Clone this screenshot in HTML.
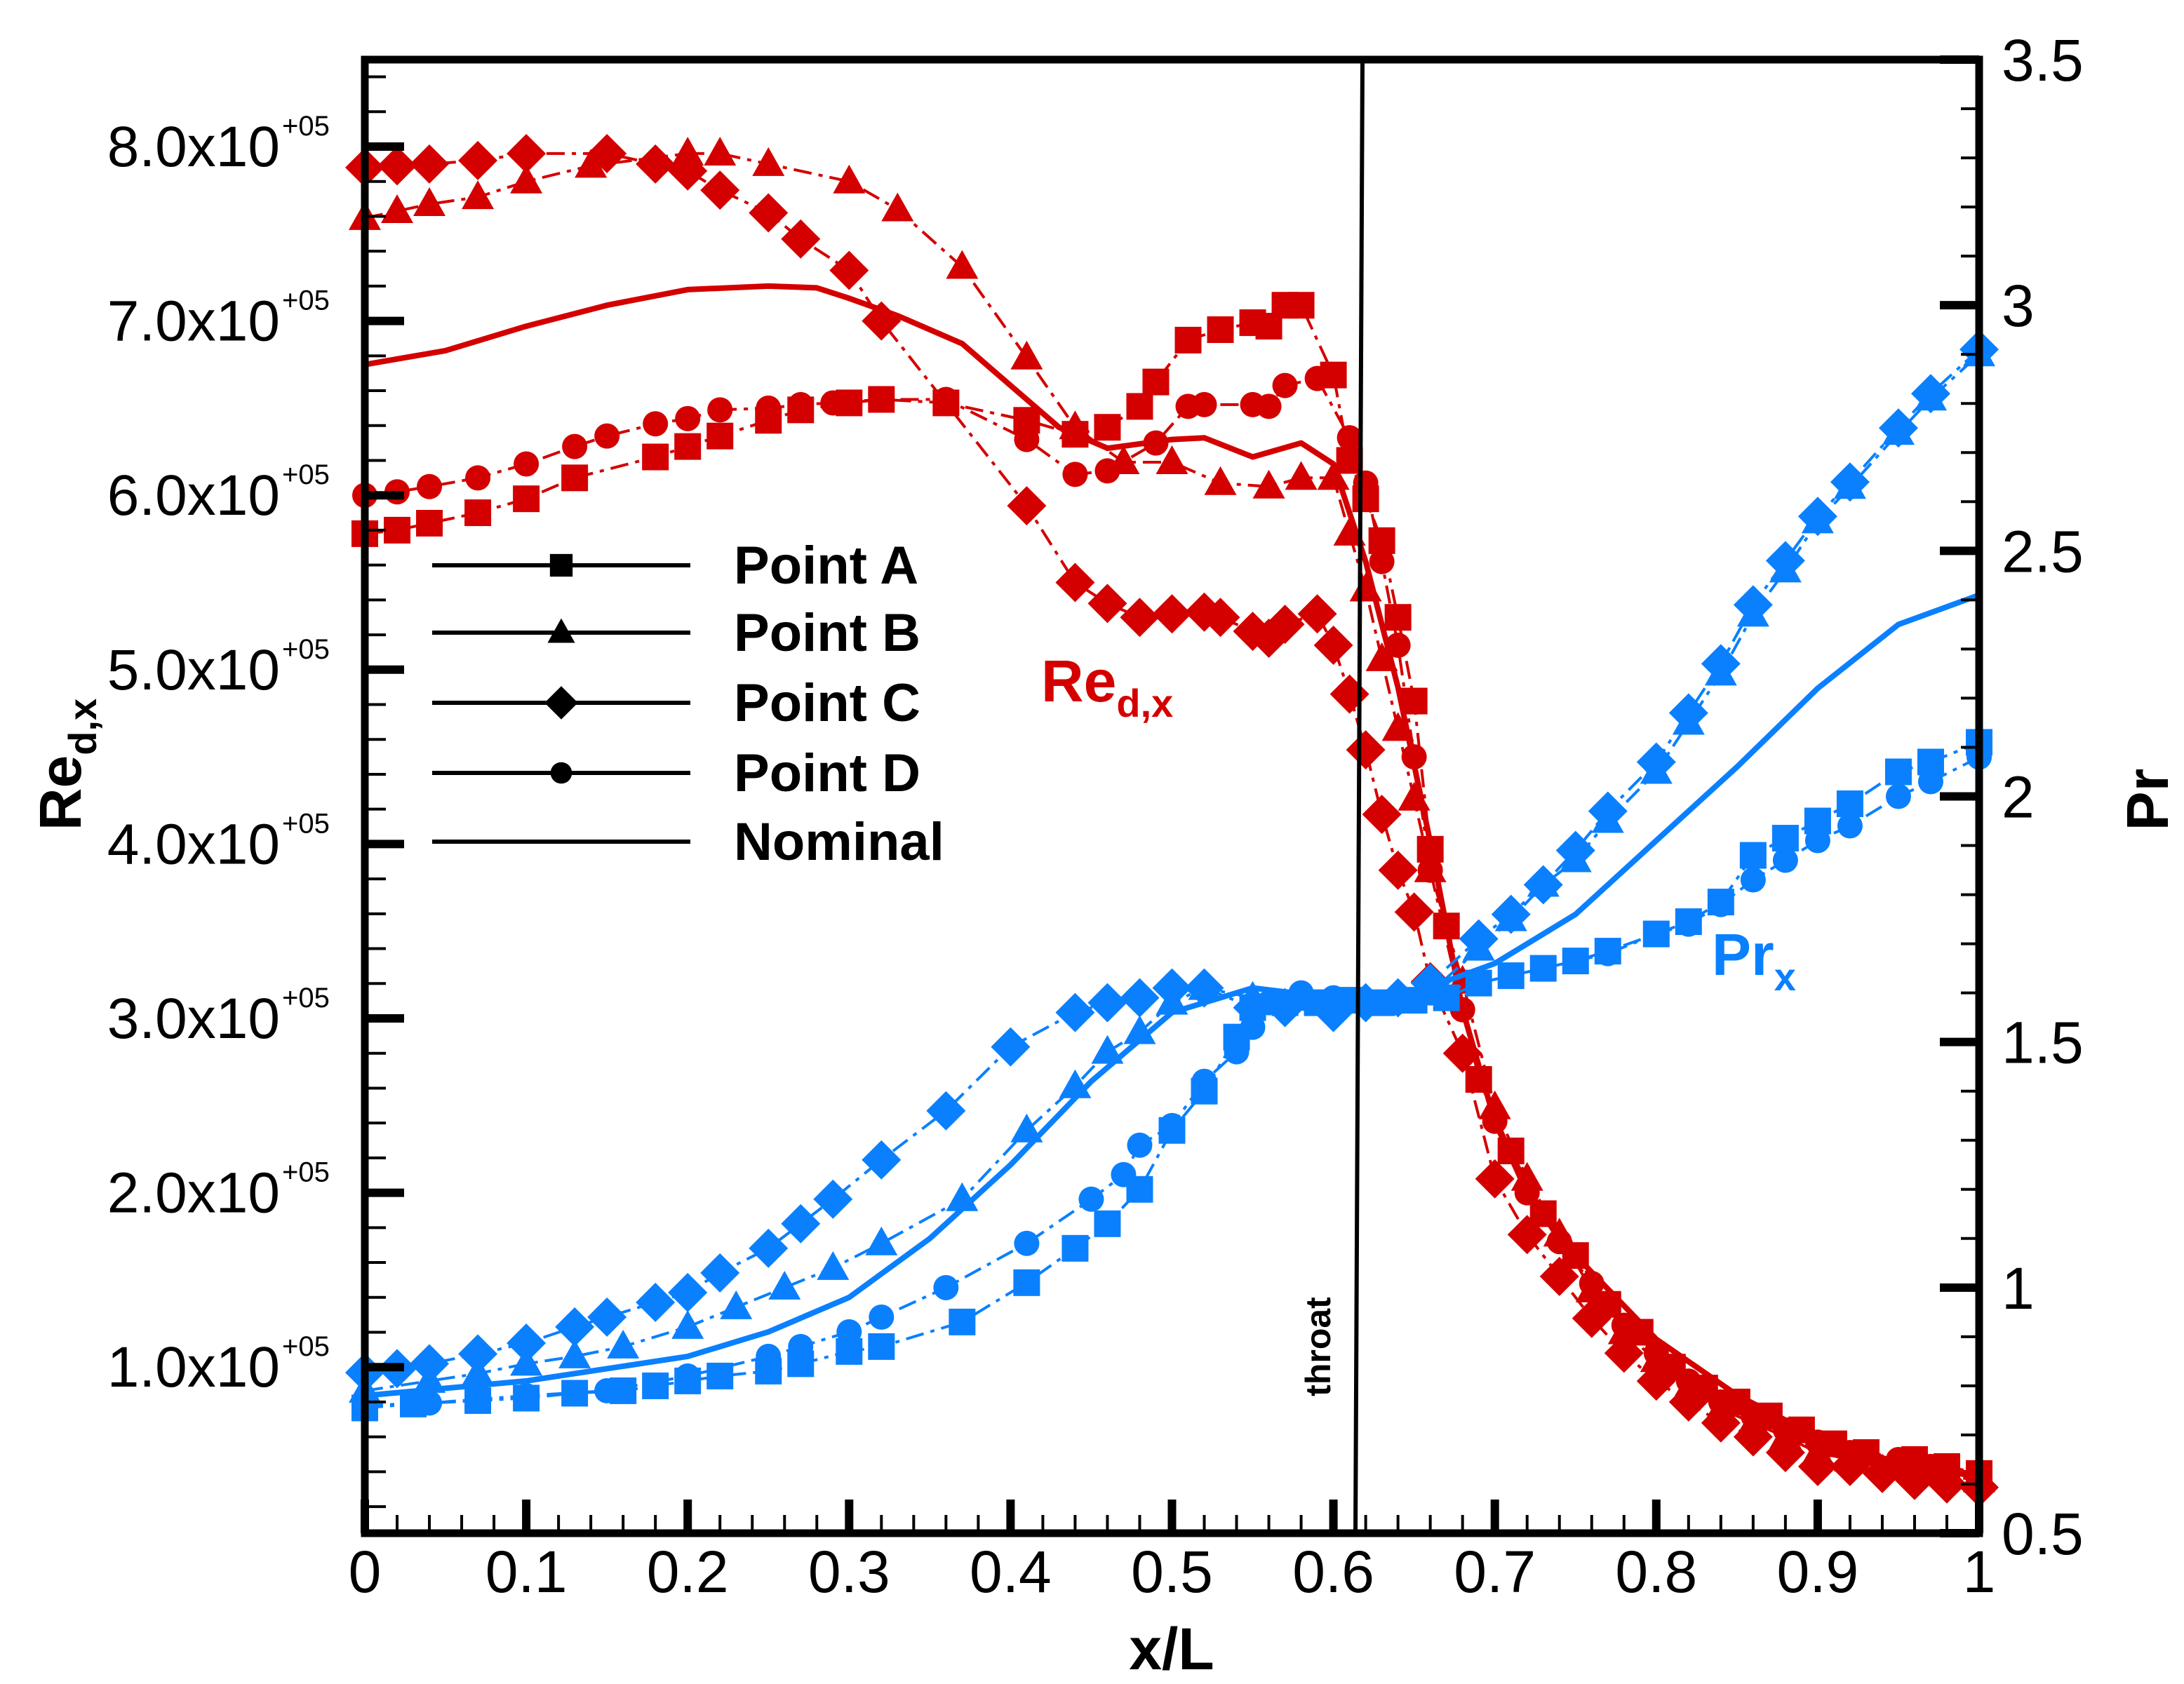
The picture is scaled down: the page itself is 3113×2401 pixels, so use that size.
<!DOCTYPE html>
<html><head><meta charset="utf-8">
<style>
html,body{margin:0;padding:0;background:#fff;}
svg{display:block;font-family:"Liberation Sans",Arial,sans-serif;}
</style></head>
<body>
<svg id="chart" width="3113" height="2401" viewBox="0 0 3113 2401" xmlns="http://www.w3.org/2000/svg">
<rect width="3113" height="2401" fill="#fff"/>
<g id="series"></g>
<g id="axes"></g>
</svg>
<script>
// ---------- data ----------
const reAx = [0,0.02,0.04,0.07,0.1,0.13,0.18,0.2,0.22,0.25,0.27,0.3,0.32,0.36,0.41,0.44,0.46,0.48,0.49,0.51,0.53,0.55,0.56,0.57,0.58,0.6,0.61,0.62,0.63,0.64,0.65,0.66,0.67,0.69,0.71,0.73,0.75,0.77,0.79,0.81,0.83,0.85,0.87,0.89,0.91,0.93,0.96,0.98,1.0];
const reAy = [5.78,5.8,5.84,5.9,5.98,6.1,6.22,6.28,6.34,6.43,6.49,6.53,6.55,6.53,6.43,6.35,6.39,6.51,6.65,6.89,6.95,6.99,6.97,7.09,7.09,6.69,6.2,5.98,5.74,5.3,4.82,3.97,3.53,2.65,2.24,1.88,1.64,1.36,1.2,1.0,0.88,0.8,0.72,0.64,0.56,0.51,0.47,0.43,0.39];
const reBx = [0,0.02,0.04,0.07,0.1,0.14,0.2,0.22,0.25,0.3,0.33,0.37,0.41,0.44,0.47,0.5,0.53,0.56,0.58,0.6,0.61,0.62,0.63,0.64,0.65,0.66,0.68,0.7,0.72,0.74,0.76,0.78,0.8,0.82,0.84,0.86,0.88,0.9,0.92,0.95,0.97,1.0];
const reBy = [7.59,7.63,7.67,7.71,7.8,7.89,7.96,7.96,7.9,7.8,7.64,7.31,6.79,6.39,6.19,6.19,6.07,6.05,6.1,6.1,5.78,5.46,5.06,4.66,4.26,3.85,3.21,2.49,2.08,1.76,1.44,1.2,1.04,0.88,0.76,0.68,0.6,0.51,0.47,0.43,0.39,0.35];
const reCx = [0,0.02,0.04,0.07,0.1,0.15,0.18,0.2,0.22,0.25,0.27,0.3,0.32,0.41,0.44,0.46,0.48,0.5,0.52,0.53,0.55,0.56,0.57,0.59,0.6,0.61,0.62,0.63,0.64,0.65,0.66,0.68,0.7,0.72,0.74,0.76,0.78,0.8,0.82,0.84,0.86,0.88,0.9,0.92,0.94,0.96,0.98,1.0];
const reCy = [7.88,7.89,7.9,7.92,7.96,7.96,7.9,7.86,7.75,7.62,7.47,7.29,7.0,5.94,5.5,5.38,5.3,5.32,5.33,5.3,5.22,5.18,5.26,5.32,5.14,4.86,4.54,4.17,3.85,3.61,3.21,2.8,2.08,1.76,1.52,1.28,1.08,0.92,0.8,0.68,0.6,0.51,0.43,0.43,0.39,0.35,0.33,0.31];
const reDx = [0,0.02,0.04,0.07,0.1,0.13,0.15,0.18,0.2,0.22,0.25,0.27,0.29,0.32,0.36,0.41,0.44,0.46,0.49,0.51,0.52,0.55,0.56,0.57,0.59,0.61,0.62,0.63,0.64,0.65,0.66,0.68,0.7,0.72,0.74,0.76,0.78,0.8,0.82,0.84,0.86,0.88,0.9,0.92,0.95,0.97,1.0];
const reDy = [6.0,6.02,6.05,6.1,6.18,6.28,6.34,6.41,6.44,6.49,6.5,6.52,6.53,6.55,6.55,6.32,6.12,6.14,6.3,6.51,6.52,6.52,6.51,6.63,6.67,6.33,6.07,5.62,5.14,4.5,3.85,3.05,2.41,2.0,1.72,1.48,1.24,1.08,0.92,0.8,0.72,0.64,0.57,0.51,0.47,0.43,0.39];
const reNx = [0,0.05,0.1,0.15,0.2,0.25,0.28,0.3,0.33,0.37,0.4,0.43,0.46,0.5,0.52,0.55,0.58,0.6,0.62,0.64,0.66,0.68,0.7,0.72,0.75,0.8,0.85,0.9,0.95,1.0];
const reNy = [6.75,6.83,6.97,7.09,7.18,7.2,7.19,7.13,7.03,6.87,6.63,6.39,6.27,6.32,6.33,6.22,6.3,6.18,5.62,4.9,4.01,3.05,2.41,2.0,1.64,1.16,0.84,0.6,0.45,0.37];

const prAx = [0,0.03,0.07,0.1,0.13,0.16,0.18,0.2,0.22,0.25,0.27,0.3,0.32,0.37,0.41,0.44,0.46,0.48,0.5,0.52,0.54,0.55,0.57,0.59,0.61,0.63,0.65,0.67,0.69,0.71,0.73,0.75,0.77,0.8,0.82,0.84,0.86,0.88,0.9,0.92,0.95,0.97,1.0];
const prAy = [0.755,0.763,0.77,0.775,0.785,0.79,0.80,0.81,0.82,0.83,0.845,0.87,0.88,0.93,1.01,1.08,1.13,1.20,1.32,1.40,1.51,1.57,1.58,1.58,1.585,1.58,1.585,1.59,1.62,1.635,1.65,1.665,1.685,1.72,1.745,1.785,1.88,1.915,1.95,1.985,2.05,2.07,2.11];
const prBx = [0,0.04,0.07,0.1,0.13,0.16,0.2,0.23,0.26,0.29,0.32,0.37,0.41,0.44,0.46,0.48,0.5,0.52,0.55,0.58,0.6,0.62,0.64,0.66,0.69,0.71,0.73,0.75,0.77,0.8,0.82,0.84,0.86,0.88,0.9,0.92,0.95,0.97,1.0];
const prBy = [0.79,0.81,0.825,0.845,0.86,0.88,0.92,0.96,1.0,1.04,1.09,1.18,1.32,1.41,1.48,1.52,1.58,1.61,1.59,1.59,1.58,1.585,1.59,1.6,1.69,1.75,1.82,1.87,1.95,2.05,2.15,2.25,2.37,2.46,2.56,2.63,2.74,2.81,2.9];
const prCx = [0,0.02,0.04,0.07,0.1,0.13,0.15,0.18,0.2,0.22,0.25,0.27,0.29,0.32,0.36,0.4,0.44,0.46,0.48,0.5,0.52,0.55,0.57,0.6,0.62,0.64,0.66,0.69,0.71,0.73,0.75,0.77,0.8,0.82,0.84,0.86,0.88,0.9,0.92,0.95,0.97,1.0];
const prCy = [0.827,0.835,0.845,0.865,0.887,0.92,0.94,0.97,0.99,1.03,1.08,1.13,1.18,1.26,1.36,1.49,1.56,1.58,1.59,1.61,1.61,1.57,1.57,1.56,1.58,1.59,1.62,1.71,1.76,1.82,1.89,1.97,2.07,2.17,2.27,2.39,2.48,2.57,2.64,2.75,2.82,2.91];
const prDx = [0,0.04,0.1,0.15,0.2,0.25,0.27,0.3,0.32,0.36,0.41,0.45,0.47,0.48,0.5,0.52,0.54,0.55,0.56,0.58,0.6,0.62,0.64,0.66,0.69,0.71,0.73,0.75,0.77,0.8,0.82,0.84,0.86,0.88,0.9,0.92,0.95,0.97,1.0];
const prDy = [0.76,0.765,0.78,0.79,0.82,0.86,0.88,0.91,0.94,1.0,1.09,1.18,1.23,1.29,1.33,1.42,1.48,1.53,1.58,1.6,1.59,1.585,1.59,1.6,1.62,1.635,1.65,1.665,1.68,1.72,1.74,1.78,1.83,1.87,1.91,1.94,2.0,2.03,2.08];
const prNx = [0,0.1,0.2,0.25,0.3,0.35,0.4,0.45,0.5,0.55,0.6,0.65,0.7,0.75,0.8,0.85,0.9,0.95,1.0];
const prNy = [0.78,0.81,0.86,0.91,0.98,1.1,1.25,1.42,1.56,1.61,1.59,1.6,1.66,1.76,1.91,2.06,2.22,2.35,2.41];

const xTicks = ["0","0.1","0.2","0.3","0.4","0.5","0.6","0.7","0.8","0.9","1"];
const reTicks = ["1.0","2.0","3.0","4.0","5.0","6.0","7.0","8.0"];
const prTicks = ["0.5","1","1.5","2","2.5","3","3.5"];
const throatX = 0.618;

// ---------- scales ----------
const L=520, R=2821, T=85, B=2186;
const X = x => L + x*(R-L);
const YRe = v => 209 + (8 - v)*248.6;
const YPr = p => B - (p-0.5)*(B-T)/3;
const NS="http://www.w3.org/2000/svg";
const RED="#d40000", BLUE="#0a80ff";
function mk(tag, attrs, parent){const e=document.createElementNS(NS,tag);for(const k in attrs)e.setAttribute(k,attrs[k]);parent.appendChild(e);return e;}
const sg=document.getElementById('series'), ag=document.getElementById('axes');

function marker(type,cx,cy,color,parent,s){
  s=s||1;let e;
  if(type==='square') e=mk('rect',{x:cx-19*s,y:cy-19*s,width:38*s,height:38*s,fill:color},parent);
  else if(type==='triangle') e=mk('polygon',{points:`${cx},${cy-24*s} ${cx+23*s},${cy+17*s} ${cx-23*s},${cy+17*s}`,fill:color},parent);
  else if(type==='diamond') e=mk('polygon',{points:`${cx},${cy-28*s} ${cx+28*s},${cy} ${cx},${cy+28*s} ${cx-28*s},${cy}`,fill:color},parent);
  else if(type==='circle') e=mk('circle',{cx:cx,cy:cy,r:18*s,fill:color},parent);
  return e;
}
function series(name,xs,ys,Y,color,type,dash){
  const g=mk('g',{},sg);
  
  
  const pts=xs.map((x,i)=>X(x).toFixed(1)+','+Y(ys[i]).toFixed(1)).join(' ');
  const pl=mk('polyline',{points:pts,fill:'none',stroke:color,'stroke-width':type?4:8,'stroke-dasharray':dash||'none','stroke-linejoin':'round'},g);
  
  
  if(type){xs.forEach((x,i)=>{const m=marker(type,X(x),Y(ys[i]),color,g);
    
    });}
}
const DD="26,10,6,10";
series('re-point-a',reAx,reAy,YRe,RED,'square',DD);
series('re-point-b',reBx,reBy,YRe,RED,'triangle',DD);
series('re-point-d',reDx,reDy,YRe,RED,'circle',DD);
series('re-point-c',reCx,reCy,YRe,RED,'diamond',DD);
series('re-nominal',reNx,reNy,YRe,RED,null,null);
series('pr-point-a',prAx,prAy,YPr,BLUE,'square',DD);
series('pr-point-d',prDx,prDy,YPr,BLUE,'circle',DD);
series('pr-point-b',prBx,prBy,YPr,BLUE,'triangle',DD);
series('pr-point-c',prCx,prCy,YPr,BLUE,'diamond',DD);
series('pr-nominal',prNx,prNy,YPr,BLUE,null,null);

// throat line
const th=mk('line',{x1:X(throatX),x2:X(throatX)-10,y1:T,y2:B,stroke:'#000','stroke-width':6},ag);


const tt=mk('text',{x:0,y:0,transform:`translate(${X(throatX)-46},${1920}) rotate(-90)`,'font-size':50,'font-weight':'bold','text-anchor':'middle',fill:'#000'},ag);
tt.textContent='throat';



// frame
const fr=mk('rect',{x:L,y:T,width:R-L,height:B-T,fill:'none',stroke:'#000','stroke-width':11},ag);



// x ticks
for(let i=0;i<=50;i++){const x=X(i/50);const major=i%5===0;
  const t=mk('line',{x1:x,x2:x,y1:B,y2:B-(major?48:26),stroke:'#000','stroke-width':major?12:4},ag);
  
  }
xTicks.forEach((s,i)=>{const t=mk('text',{x:X(i/10),y:2270,'font-size':84,'text-anchor':'middle',fill:'#000'},ag);t.textContent=s;
  
  });
// left ticks
for(let v=0.2;v<=8.41;v+=0.2){const y=YRe(v);const major=Math.abs(v-Math.round(v))<0.01;
  const t=mk('line',{x1:L,x2:L+(major?56:30),y1:y,y2:y,stroke:'#000','stroke-width':major?12:4},ag);
  
  }
reTicks.forEach((s,i)=>{const y=YRe(i+1)+28;
  const t=mk('text',{x:399,y:y,'font-size':82,'text-anchor':'end',fill:'#000'},ag);t.textContent=s+'x10';
  
  
  const sp=mk('text',{x:402,y:y-44,'font-size':40,'text-anchor':'start',fill:'#000'},ag);sp.textContent='+05';
  
  });
// right ticks
for(let i=0;i<=30;i++){const p=0.5+i*0.1;const y=YPr(p);const major=i%5===0;
  const t=mk('line',{x1:R,x2:R-(major?56:26),y1:y,y2:y,stroke:'#000','stroke-width':major?12:4},ag);
  
  }
prTicks.forEach((s,i)=>{const t=mk('text',{x:2853,y:YPr(0.5+i*0.5)+30,'font-size':84,'text-anchor':'start',fill:'#000'},ag);t.textContent=s;
  
  });

// axis titles
function txt(name,attrs,html){const t=mk('text',attrs,ag);t.innerHTML=html;return t;}
txt('x-axis-title',{x:1670,y:2380,'font-size':84,'font-weight':'bold','text-anchor':'middle',fill:'#000'},'x/L');
txt('re-axis-title',{x:0,y:0,transform:'translate(115,1090) rotate(-90)','font-size':84,'font-weight':'bold','text-anchor':'middle',fill:'#000'},'Re<tspan font-size="56" dy="22">d,x</tspan>');
txt('pr-axis-title',{x:0,y:0,transform:'translate(3090,1140) rotate(-90)','font-size':84,'font-weight':'bold','text-anchor':'middle',fill:'#000'},'Pr');
txt('re-annotation',{x:1484,y:1000,'font-size':84,'font-weight':'bold',fill:RED},'Re<tspan font-size="56" dy="22">d,x</tspan>');
txt('pr-annotation',{x:2440,y:1390,'font-size':84,'font-weight':'bold',fill:BLUE},'Pr<tspan font-size="56" dy="22">x</tspan>');

// legend
const legNames=["Point A","Point B","Point C","Point D","Nominal"];
const legTypes=["square","triangle","diamond","circle",null];
const legY=[806,902,1002,1102,1200];
legNames.forEach((n,i)=>{
  const g=mk('g',{},ag);
  
  
  mk('line',{x1:616,x2:984,y1:legY[i],y2:legY[i],stroke:'#000','stroke-width':6},g);
  if(legTypes[i]) marker(legTypes[i],800,legY[i],'#000',g,0.85);
  const t=mk('text',{x:1046,y:legY[i]+26,'font-size':76,'font-weight':'bold',fill:'#000'},g);t.textContent=n;
});
</script>
</body></html>
